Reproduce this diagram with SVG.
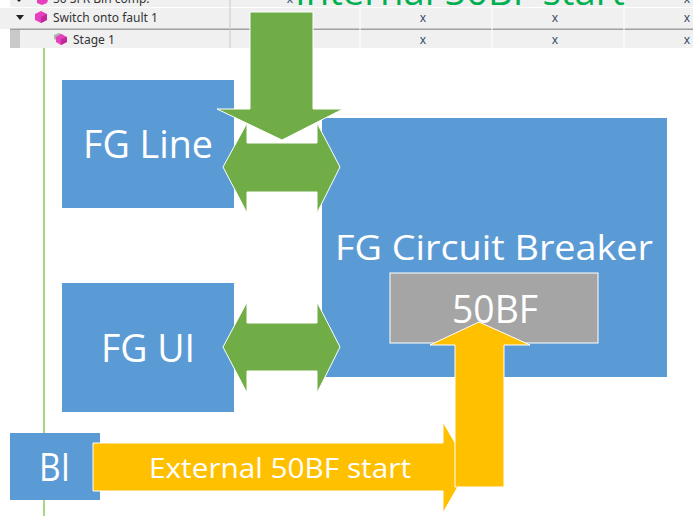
<svg xmlns="http://www.w3.org/2000/svg" width="693" height="516" viewBox="0 0 693 516">
<style>
.tbl{font-family:"Noto Sans","Open Sans",sans-serif;font-size:12px;fill:#333}
.xm{font-family:"Noto Sans","Open Sans",sans-serif;font-size:12px;fill:#3a4a6a;text-anchor:middle}
.box{fill:#5b9bd5}
.lbl{font-family:"Open Sans","Liberation Sans",sans-serif;fill:#ffffff}
.g{fill:#70ad47;stroke:#ffffff;stroke-width:1}
.y{fill:#ffc000;stroke:#ffffff;stroke-width:1}
.cube{fill:#e83fc0}
</style>
<defs>
  <clipPath id="row1"><rect x="0" y="0" width="693" height="7"/></clipPath>
</defs>
<rect x="0" y="0" width="693" height="516" fill="#ffffff"/>
<g id="table">
  <rect x="10" y="0" width="683" height="7" fill="#f0f0f0"/>
  <rect x="0" y="8" width="693" height="21" fill="#f0f0f0"/>
  <rect x="10" y="30" width="683" height="18" fill="#f0f0f0"/>
  <rect x="10" y="30" width="10" height="18" fill="#c9c9c9"/>
  <line x1="10" y1="29.2" x2="693" y2="29.2" stroke="#a0a0a0" stroke-width="1.6"/>
  <line x1="230" y1="0" x2="230" y2="48" stroke="#c8c8c8" stroke-width="1"/>
  <line x1="360" y1="0" x2="360" y2="48" stroke="#ffffff" stroke-width="1"/>
  <line x1="492" y1="0" x2="492" y2="48" stroke="#ffffff" stroke-width="1"/>
  <line x1="624" y1="0" x2="624" y2="48" stroke="#ffffff" stroke-width="1"/>
  <g clip-path="url(#row1)">
    <polygon points="17,0 21,0 19,2" fill="#222"/>
    <polygon class="cube" points="37,0 48,0 47,3 42,5 37,3"/>
    <text class="tbl" x="53" y="3">50 SFR Bin comp.</text>
    <text class="xm" x="290" y="3">x</text>
    <text class="xm" x="687" y="3">x</text>
    <text x="295" y="5" font-family="'Open Sans','Liberation Sans',sans-serif" font-size="36" fill="#00b050" textLength="330" lengthAdjust="spacingAndGlyphs">Internal 50BF start</text>
  </g>
  <polygon points="16,15 24,15 20,20" fill="#222"/>
  <polygon class="cube" points="35,14 41,11 47,14 47,20 41,23 35,20"/>
  <polygon points="41,17 47,14 47,20 41,23" fill="#c02a9a"/>
  <text class="tbl" x="53" y="22">Switch onto fault 1</text>
  <text class="xm" x="423" y="22">x</text>
  <text class="xm" x="555" y="22">x</text>
  <text class="xm" x="687" y="22">x</text>
  <polygon points="54,35 59,33 64,35 64,39 59,41 54,39" fill="#b0b0b0"/>
  <polygon class="cube" points="56,37 61,34 67,37 67,42 61,45 56,42"/>
  <polygon points="61,39 67,37 67,42 61,45" fill="#c02a9a"/>
  <text class="tbl" x="73" y="44">Stage 1</text>
  <text class="xm" x="423" y="44">x</text>
  <text class="xm" x="555" y="44">x</text>
  <text class="xm" x="687" y="44">x</text>
</g>
<line x1="44" y1="48" x2="44" y2="516" stroke="#8cc85a" stroke-width="1.5"/>
<g id="fg-line">
  <rect class="box" x="62" y="80" width="172" height="128"/>
  <text class="lbl" x="83" y="158" font-size="39" textLength="130" lengthAdjust="spacingAndGlyphs">FG Line</text>
</g>
<g id="fg-ui">
  <rect class="box" x="62" y="283" width="172" height="129"/>
  <text class="lbl" x="101" y="362" font-size="39" textLength="94" lengthAdjust="spacingAndGlyphs">FG UI</text>
</g>
<g id="fg-cb">
  <rect class="box" x="322" y="118" width="345" height="259"/>
  <text class="lbl" x="335" y="260" font-size="35" textLength="318" lengthAdjust="spacingAndGlyphs">FG Circuit Breaker</text>
</g>
<g id="f50bf">
  <rect x="390" y="273" width="208" height="70" fill="#a5a5a5" stroke="#ffffff" stroke-width="1"/>
  <text class="lbl" x="452" y="323" font-size="39" textLength="86" lengthAdjust="spacingAndGlyphs">50BF</text>
</g>
<g id="bi">
  <rect class="box" x="10" y="433" width="90" height="67"/>
  <text class="lbl" x="39" y="481" font-size="39" textLength="31" lengthAdjust="spacingAndGlyphs">BI</text>
</g>
<g id="connectors">
  <polygon class="g" points="223,167 247,123 247,143 317,143 317,123 340,167 317,213 317,192 247,192 247,213"/>
  <polygon class="g" points="250,12 313,12 313,109 343,109 282,140 217,109 250,109"/>
  <polygon class="g" points="223,347 247,302 247,323 317,323 317,302 340,347 317,393 317,371 247,371 247,393"/>
  <polygon class="y" points="93,443 443,443 443,422 469,467 443,513 443,491 93,491"/>
  <text class="lbl" x="149" y="478" font-size="28" textLength="262" lengthAdjust="spacingAndGlyphs">External 50BF start</text>
  <polygon class="y" points="455,487 455,345 430,345 479,322 530,345 504,345 504,487"/>
</g>
</svg>
